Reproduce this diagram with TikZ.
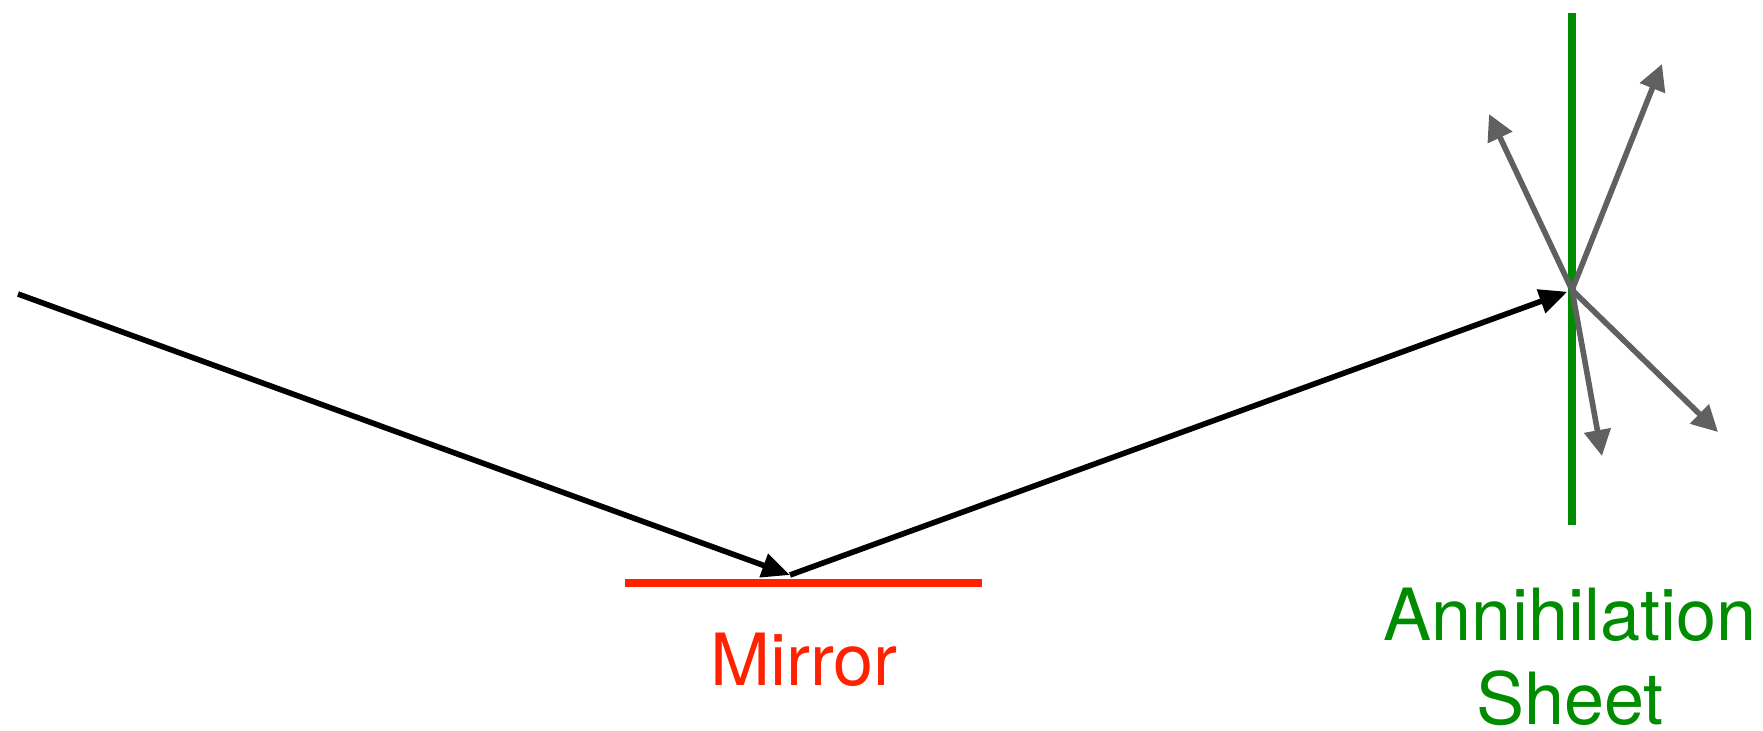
\documentclass[tikz,border=0pt]{standalone}
\usepackage{fontspec}
\setmainfont{TeX Gyre Heros}
\usepackage{xcolor}
\usetikzlibrary{arrows.meta,positioning,calc}
\definecolor{mirrorred}{RGB}{255,34,0}
\definecolor{sheetgreen}{RGB}{0,140,0}
\definecolor{raygray}{RGB}{96,96,96}
\tikzset{
  ray/.style={line width=2.8pt,-{Triangle[length=14pt,width=12pt]}},
  product/.style={line width=2.8pt,draw=raygray,-{Triangle[length=13pt,width=13pt]},raygray},
  caption/.style={font=\fontsize{36}{42}\selectfont,inner sep=0pt,align=center}
}
\begin{document}
\begin{tikzpicture}[x=0.5pt,y=-0.5pt]
  \useasboundingbox (0,0) rectangle (1763,730);
  % mirror and sheet
  \draw[mirrorred,line width=4pt] (625,583) -- (982,583);
  \draw[sheetgreen,line width=4.2pt] (1572,13) -- (1572,525);
  \coordinate (src) at (18,294);
  \coordinate (bounce) at (790,575);
  \coordinate (hub) at (1572,290);
  \coordinate (ul) at (1489,114);
  \coordinate (ur) at (1662,64);
  \coordinate (dm) at (1602,456);
  \coordinate (dr) at (1718,432);
  % incoming and reflected rays
  \draw[ray] (src) -- (bounce);
  \draw[ray,shorten >=2.5pt] (bounce) -- (hub);
  % annihilation products
  \foreach \t in {ul,ur,dm,dr}
    \draw[product] (hub) -- (\t);
  \node[caption,text=mirrorred,anchor=base] (mirror) at (804,685) {Mirror};
  \node[caption,text=sheetgreen,anchor=base] (sheet) at (1570,724) {Annihilation\\Sheet};
\end{tikzpicture}
\end{document}
